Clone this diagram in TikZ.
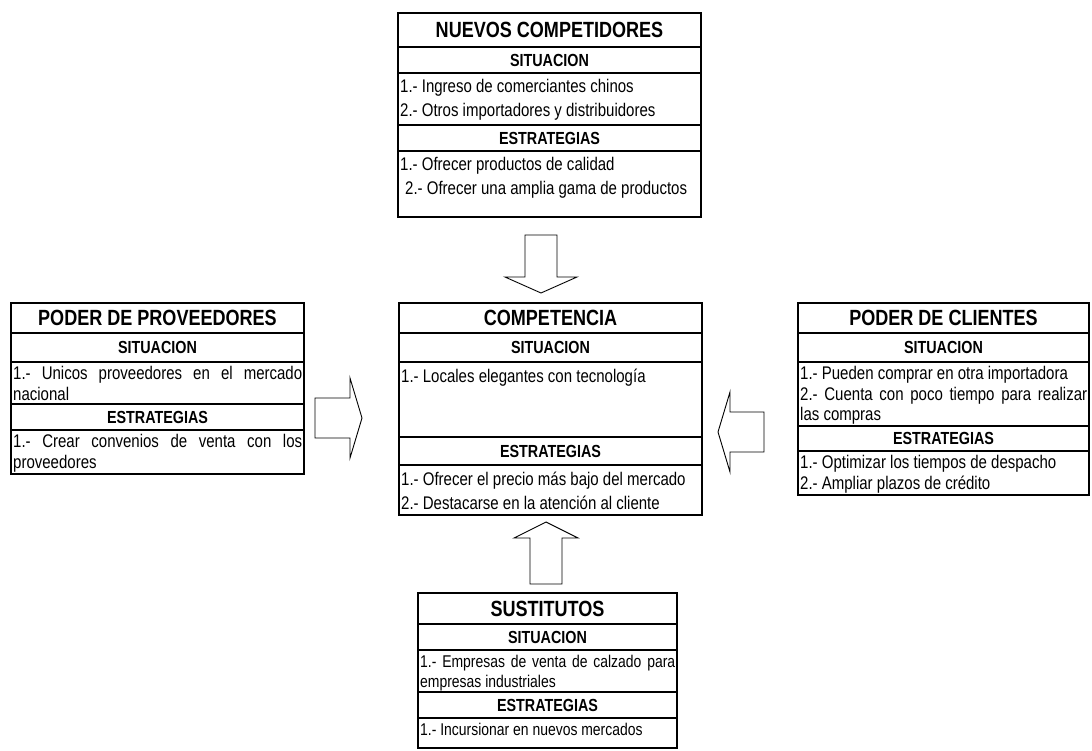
\documentclass[tikz,border=0pt]{standalone}
\usepackage{fontspec}
\setmainfont{Liberation Sans}[FakeStretch=0.82]
\setlength{\parindent}{0pt}
\hyphenpenalty=10000
\exhyphenpenalty=10000
\begin{document}
\begin{tikzpicture}[x=1pt,y=-1pt,
  cell/.style={draw, line width=2.6pt, anchor=north west, inner sep=0pt, outer sep=0pt},
  ttl/.style={font=\fontsize{22}{26}\selectfont\bfseries},
  hdr/.style={font=\fontsize{17.5}{21}\selectfont\bfseries},
  txt/.style={anchor=north west, inner sep=0pt, align=flush left, font=\fontsize{18.3}{24}\selectfont},
  jtxt/.style={anchor=north west, inner sep=0pt, align=justify, font=\fontsize{18.3}{20.5}\selectfont},
  stxt/.style={anchor=north west, inner sep=0pt, align=justify, font=\fontsize{17}{20}\selectfont},
  barrow/.style={draw, line width=0.9pt, fill=white, line join=miter}]
\useasboundingbox[fill=white] (0,0) rectangle (1092,751);

% ---- Nuevos competidores (top)
\node[cell, ttl, minimum width=303, minimum height=34] (nT) at (398,13) {NUEVOS COMPETIDORES};
\node[cell, hdr, minimum width=303, minimum height=26] (nS) at (398,47) {SITUACION};
\node[cell, minimum width=303, minimum height=52] (nSi) at (398,73) {};
\node[cell, hdr, minimum width=303, minimum height=26] (nE) at (398,125) {ESTRATEGIAS};
\node[cell, minimum width=303, minimum height=66] (nEi) at (398,151) {};
\node[txt, text width=297] (nSt) at ([shift={(2,3)}]nSi.north west)
  {\strut 1.- Ingreso de comerciantes chinos\\2.- Otros importadores y distribuidores};
\node[txt, text width=297] (nEt) at ([shift={(2,3)}]nEi.north west)
  {\strut 1.- Ofrecer productos de calidad\\\hspace*{5pt}2.- Ofrecer una amplia gama de productos};

% ---- Competencia (centre)
\node[cell, ttl, minimum width=303, minimum height=30] (cT) at (399,303) {COMPETENCIA};
\node[cell, hdr, minimum width=303, minimum height=29] (cS) at (399,333) {SITUACION};
\node[cell, minimum width=303, minimum height=75] (cSi) at (399,362) {};
\node[cell, hdr, minimum width=303, minimum height=28] (cE) at (399,437) {ESTRATEGIAS};
\node[cell, minimum width=303, minimum height=50] (cEi) at (399,465) {};
\node[txt, text width=297] (cSt) at ([shift={(2,3)}]cSi.north west)
  {\strut 1.- Locales elegantes con tecnología};
\node[txt, text width=297] (cEt) at ([shift={(2,3)}]cEi.north west)
  {\strut 1.- Ofrecer el precio más bajo del mercado\\2.- Destacarse en la atención al cliente};

% ---- Poder de proveedores (left)
\node[cell, ttl, minimum width=293, minimum height=30] (lT) at (11,303) {PODER DE PROVEEDORES};
\node[cell, hdr, minimum width=293, minimum height=29] (lS) at (11,333) {SITUACION};
\node[cell, minimum width=293, minimum height=42] (lSi) at (11,362) {};
\node[cell, hdr, minimum width=293, minimum height=26] (lE) at (11,404) {ESTRATEGIAS};
\node[cell, minimum width=293, minimum height=44] (lEi) at (11,430) {};
\node[jtxt, text width=289] (lSt) at ([shift={(2,3)}]lSi.north west)
  {\strut 1.- Unicos proveedores en el mercado\linebreak nacional};
\node[jtxt, text width=289] (lEt) at ([shift={(2,3)}]lEi.north west)
  {\strut 1.- Crear convenios de venta con los\linebreak proveedores};

% ---- Poder de clientes (right)
\node[cell, ttl, minimum width=291, minimum height=30] (rT) at (798,303) {PODER DE CLIENTES};
\node[cell, hdr, minimum width=291, minimum height=29] (rS) at (798,333) {SITUACION};
\node[cell, minimum width=291, minimum height=64] (rSi) at (798,362) {};
\node[cell, hdr, minimum width=291, minimum height=25] (rE) at (798,426) {ESTRATEGIAS};
\node[cell, minimum width=291, minimum height=44] (rEi) at (798,451) {};
\node[jtxt, text width=287] (rSt) at ([shift={(2,3)}]rSi.north west)
  {\strut 1.- Pueden comprar en otra importadora\par
   2.- Cuenta con poco tiempo para realizar\linebreak las compras};
\node[jtxt, text width=287] (rEt) at ([shift={(2,3)}]rEi.north west)
  {\strut 1.- Optimizar los tiempos de despacho\par
   2.- Ampliar plazos de crédito};

% ---- Sustitutos (bottom)
\node[cell, ttl, minimum width=259, minimum height=31] (sT) at (418,593) {SUSTITUTOS};
\node[cell, hdr, minimum width=259, minimum height=26] (sS) at (418,624) {SITUACION};
\node[cell, minimum width=259, minimum height=42] (sSi) at (418,650) {};
\node[cell, hdr, minimum width=259, minimum height=26] (sE) at (418,692) {ESTRATEGIAS};
\node[cell, minimum width=259, minimum height=30] (sEi) at (418,718) {};
\node[stxt, text width=255] (sSt) at ([shift={(2,3)}]sSi.north west)
  {\strut 1.- Empresas de venta de calzado para\linebreak empresas industriales};
\node[stxt, text width=255] (sEt) at ([shift={(2,3)}]sEi.north west)
  {\strut 1.- Incursionar en nuevos mercados};

% ---- Block arrows pointing at the centre box
\draw[barrow] (525,235) -- (557,235) -- (557,277) -- (577,277) -- (541,293)
  -- (505,277) -- (525,277) -- cycle;
\draw[barrow] (530,584) -- (562,584) -- (562,538) -- (578,538) -- (546,522)
  -- (514,538) -- (530,538) -- cycle;
\draw[barrow] (315,398) -- (350,398) -- (350,378) -- (362,418) -- (350,458)
  -- (350,438) -- (315,438) -- cycle;
\draw[barrow] (764,412) -- (730,412) -- (730,392) -- (718,432) -- (730,472)
  -- (730,452) -- (764,452) -- cycle;
\end{tikzpicture}
\end{document}
